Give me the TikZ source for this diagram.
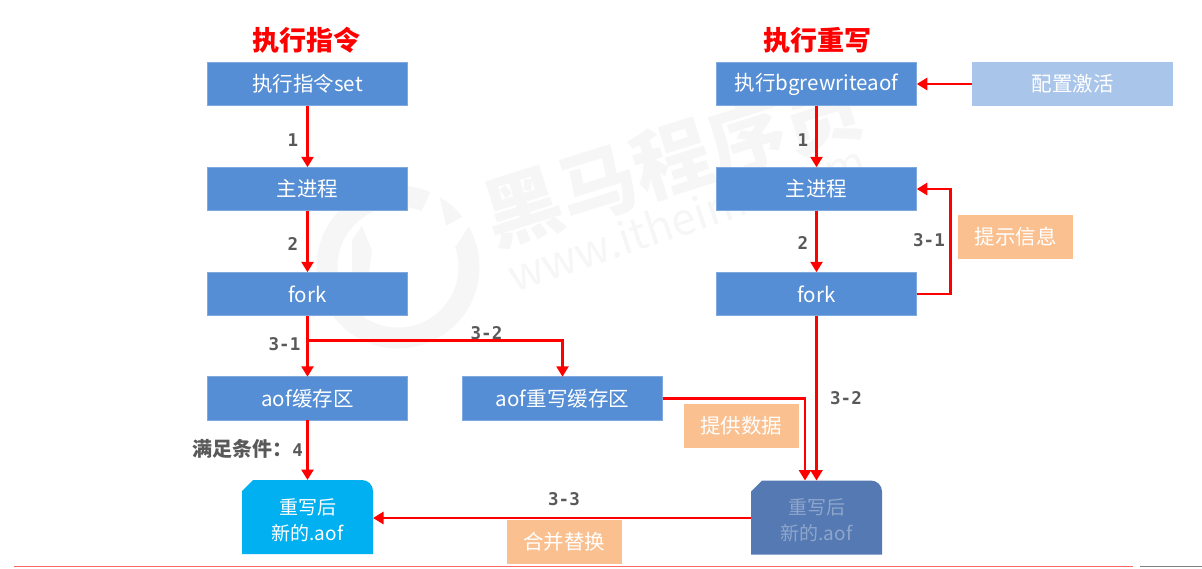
\documentclass[tikz,border=0pt]{standalone}
\usepackage{fontspec}
\setmainfont{Noto Sans CJK SC}
\newfontfamily\labelmono{DejaVu Sans Mono}
\usetikzlibrary{arrows.meta,calc}
\definecolor{boxblue}{HTML}{558ED5}
\definecolor{paleblue}{HTML}{A9C5EA}
\definecolor{peach}{HTML}{FAC090}
\definecolor{cyanfile}{HTML}{00B0F0}
\definecolor{darkfile}{HTML}{5479B3}
\definecolor{darkfiletext}{HTML}{8FA6CB}
\definecolor{lab}{HTML}{595959}
\definecolor{wm}{HTML}{F6F6F6}
\tikzset{
  base/.style={inner sep=0pt,outer sep=0pt,align=center,text=white,font=\fontsize{20.5}{23}\selectfont},
  flowbox/.style={base,fill=boxblue,draw=boxblue!75!white,line width=.6pt,minimum width=200.5pt,minimum height=43.5pt},
  palebox/.style={flowbox,fill=paleblue,draw=paleblue},
  note/.style={base,fill=peach,minimum width=115pt,minimum height=44pt},
  filebox/.style={base,minimum width=131pt,minimum height=74pt,font=\fontsize{19}{26}\selectfont,
    path picture={\fill[#1]
      ([yshift=-11pt]path picture bounding box.north west)--
      ([xshift=11pt]path picture bounding box.north west)--
      ([xshift=-11pt]path picture bounding box.north east) to[out=0,in=90]
      ([yshift=-11pt]path picture bounding box.north east)--
      (path picture bounding box.south east)--
      (path picture bounding box.south west)--cycle;}},
  flow/.style={draw=red,line width=2.8pt,-{Triangle[length=10.5pt,width=12pt]}},
  steplabel/.style={inner sep=0pt,text=lab,font=\labelmono\bfseries\fontsize{17.5}{19}\selectfont},
  titlelabel/.style={inner sep=0pt,text=red,font=\bfseries\fontsize{27}{30}\selectfont},
}
\begin{document}
\begin{tikzpicture}[x=1pt,y=-1pt]
\useasboundingbox (0,0) rectangle (1202,568);
% watermark
\draw[wm,line width=21pt] (398,267) circle (71);
\fill[white] (412,232) -- (436,180) -- (446,226) -- (482,206) -- (456,246) -- cycle;
\fill[wm] (352,240) -- (362,226) -- (372,250) -- (366,300) -- (352,280) -- cycle;
\node[inner sep=0pt,rotate=17.5,text=wm,font=\bfseries\fontsize{78}{78}\selectfont] (wmA) at (672,160) {黑马程序员};
\node[inner sep=0pt,rotate=18.4,text=wm,font=\fontsize{44}{44}\selectfont] (wmB) at (686,217) {www.itheima.com};
% titles
\node[titlelabel] (t1) at (306.5,40) {执行指令};
\node[titlelabel] (t2) at (817,40) {执行重写};
% left column
\node[flowbox] (a1) at (307.5,84) {执行指令set};
\node[flowbox] (a2) at (307.5,189) {主进程};
\node[flowbox] (a3) at (307.5,294) {fork};
\node[flowbox] (a4) at (307.5,398.5) {aof缓存区};
\node[flowbox] (a5) at (562.5,398.5) {aof重写缓存区};
\node[filebox=cyanfile] (f1) at (307.5,517) {\rule{0pt}{22pt}重写后\\新的.aof};
% right column
\node[flowbox] (b1) at (816.5,84) {执行bgrewriteaof};
\node[palebox] (b0) at (1072.5,84) {配置激活};
\node[flowbox] (b2) at (816.5,189) {主进程};
\node[flowbox] (b3) at (816.5,294) {fork};
\node[filebox=darkfile,text=darkfiletext] (f2) at (816.5,517.5) {\rule{0pt}{22pt}重写后\\新的.aof};
% notes
\node[note] (n1) at (1015.5,237) {提示信息};
\node[note] (n2) at (741,426) {提供数据};
\node[note] (n3) at (564,542) {合并替换};
% connectors
\coordinate (branch) at ($(a3.south)!0.4!(a4.north)$);
\coordinate (mergeX) at (805,0);
\draw[flow] (a1) -- (a2);
\draw[flow] (a2) -- (a3);
\draw[flow] (a3) -- (a4);
\draw[flow] (branch) -| (a5.north);
\draw[flow] (a4) -- (f1);
\draw[flow] (b0) -- (b1);
\draw[flow] (b1) -- (b2);
\draw[flow] (b2) -- (b3);
\draw[flow] (b3.east) -- ++(34,0) |- (b2.east);
\draw[flow] (b3) -- (f2);
\draw[flow] (a5.east) -| (mergeX |- f2.north);
\draw[flow] (f2.west |- 0,518) -- (f1.east |- 0,518);
% step labels
\node[steplabel] (l1) at (293,140) {1};
\node[steplabel] (l2) at (293,244) {2};
\node[steplabel] (l3) at (284.5,344) {3-1};
\node[steplabel] (l4) at (486.5,333) {3-2};
\node[steplabel] (l5) at (803,140) {1};
\node[steplabel] (l6) at (803,243) {2};
\node[steplabel] (l7) at (929,240) {3-1};
\node[steplabel] (l8) at (846,398) {3-2};
\node[steplabel] (l9) at (564,499) {3-3};
\node[inner sep=0pt,anchor=east,text=lab,font=\bfseries\fontsize{20}{20}\selectfont] (l10) at (303,449) {满足条件：{\labelmono\fontsize{17.5}{19}\selectfont 4}};
% bottom rules
\coordinate (ruleA) at (14,566);
\coordinate (ruleB) at (1133,566);
\coordinate (ruleC) at (1140,566);
\coordinate (ruleD) at (1202,566);
\draw[color=red!60!white,line width=1pt] (ruleA) -- (ruleB);
\draw[color=gray,line width=1pt] (ruleC) -- (ruleD);
\end{tikzpicture}
\end{document}
